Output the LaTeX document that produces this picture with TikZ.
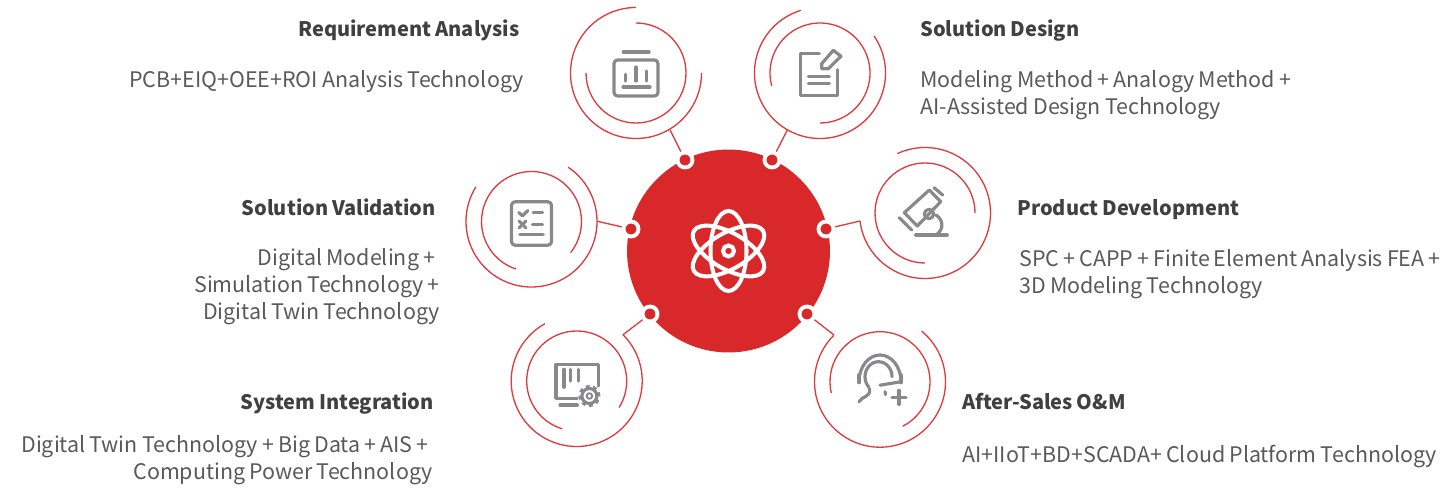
\documentclass[tikz,border=0pt]{standalone}
\usepackage{fontspec}
\setmainfont{Noto Sans CJK SC}
\definecolor{corered}{HTML}{D9282A}
\definecolor{arcred}{HTML}{DF3A3E}
\definecolor{icongray}{HTML}{88898C}
\definecolor{titlegray}{HTML}{404040}
\definecolor{bodygray}{HTML}{595959}
\tikzset{
	ring/.style={arcred,line width=0.75pt},
	link/.style={arcred,line width=0.75pt},
	icon/.style={icongray,line width=1.8pt,line cap=round,line join=round},
	atom/.style={white,line width=2.3pt},
	dotnode/.style={circle,fill=corered,draw=white,line width=2.2pt,inner sep=0pt,minimum size=0.3cm},
	titlelabel/.style={font=\fontsize{11.4}{15}\selectfont\bfseries\spaceskip 2.2pt\relax,text=titlegray,inner sep=0pt},
	bodylabel/.style={font=\fontsize{12.2}{15.3}\selectfont\spaceskip 2.35pt\relax,text=bodygray,inner sep=0pt}
}
\begin{document}
\begin{tikzpicture}[x=0.02cm,y=0.02cm]
	\useasboundingbox (0,0) rectangle (1442,490);

	\node[circle,fill=corered,inner sep=0pt,minimum size=4.06cm] (core) at (728.5,239) {};
	\draw[atom] (core.center) circle (5.5);
	\draw[atom] (core.center) ellipse (18 and 40);
	\draw[atom,rotate around={60:(core.center)}] (core.center) ellipse (18 and 40);
	\draw[atom,rotate around={-60:(core.center)}] (core.center) ellipse (18 and 40);

	\node[dotnode] (reqdot) at (685,330) {};
	\node[dotnode] (designdot) at (772,330) {};
	\node[dotnode] (valdot) at (631,261) {};
	\node[dotnode] (devdot) at (826,261) {};
	\node[dotnode] (sysdot) at (650,176) {};
	\node[dotnode] (omdot) at (807,176) {};

	\coordinate (reqend) at (670,360);
	\coordinate (designend) at (787.3,360);
	\coordinate (valend) at (597.3,268.7);
	\coordinate (devend) at (860,269);
	\coordinate (sysend) at (622.7,155);
	\coordinate (omend) at (834,155);
	\draw[link] (reqdot) -- (reqend);
	\draw[link] (designdot) -- (designend);
	\draw[link] (valdot) -- (valend);
	\draw[link] (devdot) -- (devend);
	\draw[link] (sysdot) -- (sysend);
	\draw[link] (omdot) -- (omend);

	% requirement analysis
	\begin{scope}[shift={(636,417)}]
		\draw[ring] (90:65.5) arc (90:360:65.5);
		\draw[ring] (90:50) arc (90:-180:50);
		\draw[icon] (-12.7,21) -- (13,21);
		\draw[icon,rounded corners=2pt] (-22,13) rectangle (22,-23);
		\draw[icon] (-10.3,-1.3) -- (-10.3,-8);
		\draw[icon] (0,6) -- (0,-8);
		\draw[icon] (10.3,2) -- (10.3,-8);
		\draw[icon] (-13,-14) -- (14,-14);
	\end{scope}

	% solution design
	\begin{scope}[shift={(820,417)}]
		\draw[ring] (107:65.5) arc (107:394.4:65.5);
		\draw[ring] (195:50) arc (195:-90:50);
		\draw[icon] (-0.7,19.3) -- (-19.3,19.3) -- (-19.3,-22.3) -- (17.7,-22.3) -- (17.7,3.3);
		\draw[icon] (-11.7,-3.3) -- (9.3,-3.3);
		\draw[icon] (-11.7,-10.7) -- (9.3,-10.7);
		\draw[icon] (1.7,9.3) -- (13.3,22.7) -- (21,16.7) -- (8.3,4.3) -- (1.7,4.3) -- cycle;
	\end{scope}

	% product development
	\begin{scope}[shift={(925,277)}]
		\draw[ring] (187:65.5) arc (187:475:65.5);
		\draw[ring] (0:50) arc (0:270:50);
		\draw[icon] (4.3,23) -- (15.7,11.3) -- (-7.7,-13) -- (-20.7,0.3) -- cycle;
		\draw[icon] (9,25.3) -- (17.7,18);
		\draw[icon] (-25.7,-4.7) -- (-13.3,-17);
		\draw[icon] (4,-1) circle (4.7);
		\draw[icon] (11,-2) .. controls (17.3,-6) and (20,-15) .. (11.7,-21.7);
		\draw[icon] (-9.3,-22) -- (22.3,-22);
	\end{scope}

	% solution validation
	\begin{scope}[shift={(531.5,268.5)}]
		\draw[ring] (148:65.5) arc (148:416:65.5);
		\draw[ring] (252:50) arc (252:-38.5:50);
		\draw[icon,rounded corners=2pt] (-20,19.7) rectangle (20,-23.7);
		\draw[icon] (-12.7,9) -- (-9,5.7) -- (-3.7,11);
		\draw[icon] (1.7,8.7) -- (11,8.7);
		\draw[icon] (-12.5,-6.5) -- (-5.5,0.5);
		\draw[icon] (-12.5,0.5) -- (-5.5,-6.5);
		\draw[icon] (1,-3) -- (11,-3);
		\draw[icon] (-11.7,-13.3) -- (11.7,-13.3);
	\end{scope}

	% system integration
	\begin{scope}[shift={(576.7,109)}]
		\draw[ring] (119:65.5) arc (119:405:65.5);
		\draw[ring] (253:50) arc (253:-32:50);
		\draw[icon] (0.7,-17.3) -- (-20.7,-17.3) -- (-20.7,16.7) -- (22,16.7) -- (22,-5);
		\draw[icon] (-12.7,11.7) -- (-12.7,-6.3);
		\draw[icon] (-6,11.7) -- (-6,0);
		\draw[icon] (1.7,11.7) -- (1.7,0);
		\draw[icon] (-16.7,-24) -- (0.7,-24);
		\draw[white,fill=white] (12.7,-15) circle (11);
		\draw[icon] (12.7,-15) circle (7.5);
		\draw[icon,line cap=butt,dash pattern=on 2.1pt off 2.1pt] (12.7,-15) circle (9.5);
		\draw[icon,line width=1.1pt] (12.7,-15) circle (2.8);
	\end{scope}

	% after-sales
	\begin{scope}[shift={(880,108.3)}]
		\draw[ring] (50.5:65.5) arc (50.5:-225:65.5);
		\draw[ring] (193:50) arc (193:-63:50);
		\draw[icon] (-21,0) arc[start angle=180,end angle=0,x radius=21,y radius=26.7];
		\draw[icon] (-21,7) -- (-21,-1);
		\draw[icon] (21,7) -- (21,-1);
		\draw[icon] (21,0) -- (0,-3.5);
		\draw[icon] (12,5) arc[start angle=0,end angle=225,x radius=13.5,y radius=15];
		\draw[icon] (-21,-20) .. controls (-18,-14) and (-9,-16) .. (-10.5,-7);
		\draw[icon] (5,-10) -- (5.5,-13);
		\draw[icon] (12,-15.7) -- (26,-15.7);
		\draw[icon] (19,-8.7) -- (19,-22.7);
	\end{scope}

	\node[titlelabel,anchor=east] (reqtitle) at (520,459.5) {Requirement Analysis};
	\node[bodylabel,anchor=east] (reqbody) at (524,408) {PCB+EIQ+OEE+ROI Analysis Technology};
	\node[titlelabel,anchor=west] (designtitle) at (920,459.5) {Solution Design};
	\node[bodylabel,anchor=west,align=left] (designbody) at (920,394.5) {Modeling Method + Analogy Method +\\AI-Assisted Design Technology};
	\node[titlelabel,anchor=west] (devtitle) at (1017,280.5) {Product Development};
	\node[bodylabel,anchor=west,align=left] (devbody) at (1019,215.5) {SPC + CAPP + Finite Element Analysis FEA +\\3D Modeling Technology};
	\node[titlelabel,anchor=east] (valtitle) at (436,282.5) {Solution Validation};
	\node[bodylabel,anchor=east,align=right] (valbody) at (440,203) {Digital Modeling +\hspace*{0.09cm}\\Simulation Technology +\\Digital Twin Technology};
	\node[titlelabel,anchor=east] (systitle) at (434,86.5) {System Integration};
	\node[bodylabel,anchor=east,align=right] (sysbody) at (433,30) {Digital Twin Technology + Big Data + AIS +\hspace*{0.08cm}\\Computing Power Technology};
	\node[titlelabel,anchor=west] (omtitle) at (962,88.5) {After-Sales O\&M};
	\node[bodylabel,anchor=west] (ombody) at (962,33) {AI+IIoT+BD+SCADA+ Cloud Platform Technology};
\end{tikzpicture}
\end{document}
